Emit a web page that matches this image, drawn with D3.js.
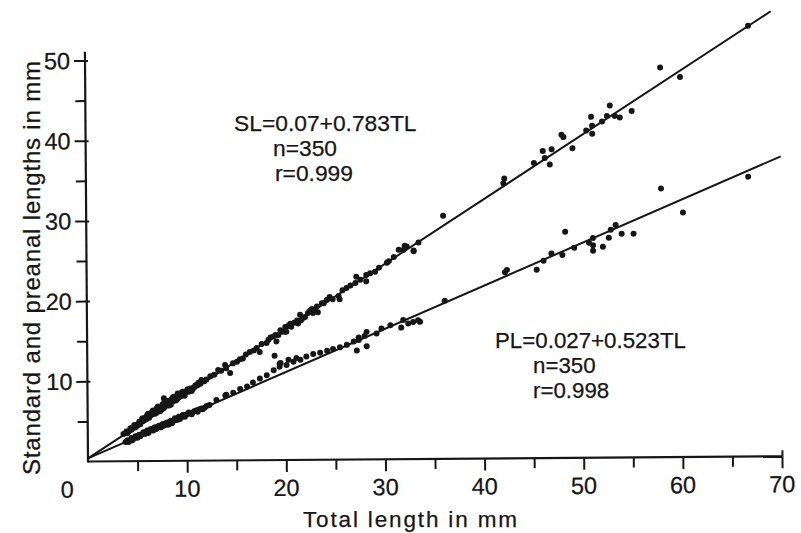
<!DOCTYPE html>
<html><head><meta charset="utf-8">
<script src="https://cdn.jsdelivr.net/npm/d3@7"></script>
<style>
html,body{margin:0;padding:0;background:#fff;}
svg{display:block;}
text{font-family:"Liberation Sans",Arial,sans-serif;fill:#161616;stroke:#161616;stroke-width:0.25px;}
</style>
</head><body><svg id="chart" width="801" height="533"></svg>
<script>
// ---------- data ----------
const xTicks = [10, 20, 30, 40, 50, 60, 70];
const xMinorTicks = [5, 15, 25, 35, 45, 55, 65];
const yTicks = [10, 20, 30, 40, 50];
const yMinorTicks = [5, 15, 25, 35, 45];

// fitted lines as drawn (TL, value)
const slFit = [[0, 0.4], [69.2, 55.5]];
const plFit = [[0, 0.4], [70.1, 37.4]];

// standard length points (TL, SL)
const slPoints = [
 [66.9,53.7],[58.0,48.6],[60.0,47.4],[55.1,43.2],[53.9,42.4],[53.4,42.6],[52.9,43.9],[52.6,42.6],
 [52.1,41.9],[51.0,42.5],[51.1,41.4],[51.1,40.4],[50.5,40.8],[49.1,38.6],[48.0,40.3],[48.2,40.0],
 [47.0,38.5],[46.1,38.3],[46.3,37.4],[46.8,36.6],[45.2,36.8],[42.2,34.9],[42.1,34.3],[36.0,30.3],
 [33.5,27.0],[33.0,26.0],[32.1,26.6],[32.0,26.1],[33.0,25.9],[31.5,26.1],[32.3,26.5],[30.3,24.5],
 [30.5,24.7],[29.1,23.4],[28.2,23.0],[27.2,22.8],[28.2,22.2],[27.1,22.0],[26.2,21.4],[25.5,20.0],
 [25.4,20.4],[24.5,20.3],[24.2,19.9],[23.7,19.5],[23.2,19.1],[22.7,18.8],[22.3,18.3],[22.8,18.3],
 [23.3,18.4],[21.8,17.7],[21.5,18.1],[21.2,17.4],[20.5,17.0],[20.0,16.6],[20.1,16.0],[19.5,16.2],
 [19.0,15.6],[18.5,15.3],[22.0,17.8],[21.3,17.0],[20.6,16.6],[19.9,16.0],[19.3,15.6],[19.1,14.8],
 [18.1,14.6],[17.4,13.5],[17.1,14.0],[16.4,13.5],[15.7,12.7],[15.1,12.3],[14.4,10.9],[13.9,11.9],
 [13.2,11.3],[12.4,10.5],[11.5,10.05],[7.7,7.8],
 [11.8,9.9],[12.0,10.1],[12.8,10.7],[13.5,11.2],[14.0,11.5],[14.7,12.1],[15.4,12.6],[16.0,13.2],
 [16.8,13.7],[17.6,14.5],[18.3,15.0],[18.8,15.4],[19.6,16.0],[20.3,16.7],[20.9,17.1],[21.6,17.4],
 [22.5,18.6],[23.0,18.7],[23.9,19.5],[24.8,20.0],[25.8,21.1],[26.6,21.7],[27.6,22.4],[28.6,23.2],
 [29.5,23.9],[31.0,25.2],
 [3.6,3.4],[3.9,3.7],[4.1,3.7],[4.3,4.1],[4.5,4.1],[4.7,4.5],[4.9,4.5],[5.0,4.4],[5.2,4.9],[5.4,4.9],
 [5.5,5.3],[5.7,5.1],[5.8,5.4],[6.0,5.4],[6.1,5.9],[6.2,5.4],[6.4,5.9],[6.5,5.8],[6.6,6.3],[6.8,5.9],
 [6.9,6.3],[7.0,6.6],[7.1,6.3],[7.2,6.2],[7.4,6.8],[7.5,6.7],[7.6,7.1],[7.7,6.6],[7.9,7.1],[8.0,7.0],
 [8.1,7.5],[8.2,6.9],[8.4,7.5],[8.5,7.4],[8.6,7.9],[8.8,7.5],[8.9,8.0],[9.0,7.9],[9.1,8.4],[9.3,8.0],
 [9.4,8.4],[9.5,8.1],[9.7,8.5],[9.8,8.4],[10.0,8.7],[10.2,8.6],[10.4,9.0],[10.6,8.9],[10.9,9.4],[11.1,9.4],
 [6.3,5.6],[6.7,6.0],[7.3,6.5],[7.8,6.9],[8.3,7.2],[8.7,7.6],[9.2,7.9],[9.6,8.2],[5.6,5.0],[5.9,5.2],
 [6.5,6.1],[7.0,6.1],[7.5,6.4],[8.0,6.9],[8.5,7.7],[9.0,7.7],[9.9,8.6],[10.3,8.8],[10.7,9.1],[11.4,9.6],
 [4.0,3.5],[4.4,3.9],[4.8,4.2],[5.1,4.6],[5.3,4.6],[5.6,5.3],[6.0,5.7],[6.3,5.9],[6.6,5.9],[6.8,6.3],
 [7.1,6.8],[7.3,6.2],[7.6,6.6],[7.9,7.4],[8.2,7.3],[8.4,7.0],[8.7,8.0],[9.0,7.6],[9.2,8.3],[9.5,8.5],
 [9.8,8.1],[10.1,8.9],[10.5,8.7],[10.8,9.2],[11.2,9.7],[6.1,5.5],[6.9,6.0],[7.4,6.4],[8.1,7.1],[8.9,7.7],
 [9.6,8.6]
];

// preanal length points (TL, PL)
const plPoints = [
 [66.8,34.9],[58.0,33.5],[60.2,30.5],[55.2,27.9],[54.0,27.9],[53.4,29.0],[52.9,28.4],[52.7,27.4],
 [52.1,26.3],[51.1,27.4],[51.1,26.5],[51.1,25.8],[50.7,26.8],[49.2,26.2],[48.3,28.2],[48.0,25.3],
 [46.9,25.5],[46.1,24.6],[45.4,23.5],[42.4,23.5],[42.2,23.2],[36.1,19.7],[33.6,17.1],[32.9,17.1],
 [32.4,16.9],[31.7,16.4],[33.4,17.3],[31.9,17.35],[30.6,16.7],[29.7,16.3],[29.2,15.7],[28.2,15.9],
 [28.0,15.4],[27.4,15.2],[27.2,13.6],[28.2,14.1],[27.4,14.9],[26.9,14.7],[26.2,14.3],[25.5,14.0],
 [24.8,13.8],[24.2,13.6],[23.5,13.35],[22.8,13.2],[22.1,12.9],[21.5,12.5],[20.8,12.25],[20.1,11.85],
 [19.4,11.65],[18.8,11.2],[18.1,10.6],[17.4,10.2],[16.7,9.7],[16.1,9.2],[15.4,8.9],[14.7,8.45],
 [14.0,8.2],[13.0,7.55],[12.3,6.93],[11.6,6.4],[18.9,13.0],[19.4,12.0],[13.9,8.1],[19.5,12.1],
 [20.3,12.5],[21.1,12.7],
 [3.8,2.4],[4.0,2.6],[4.2,2.5],[4.4,2.9],[4.6,2.8],[4.8,3.1],[5.0,2.9],[5.2,3.3],[5.4,3.3],[5.6,3.6],
 [5.8,3.4],[6.0,3.8],[6.2,3.7],[6.4,4.0],[6.6,3.8],[6.8,4.2],[7.0,4.1],[7.2,4.4],[7.4,4.2],[7.6,4.6],
 [7.8,4.5],[8.0,4.8],[8.2,4.6],[8.4,5.0],[8.6,4.9],[8.8,5.3],[9.0,5.1],[9.2,5.5],[9.4,5.4],[9.6,5.7],
 [9.8,5.5],[10.0,5.8],[10.3,5.9],[10.6,6.0],[11.0,6.3],[11.3,6.4],
 [5.1,3.2],[5.9,3.6],[6.5,3.9],[7.1,4.3],[7.7,4.4],[8.3,4.9],[8.9,5.1],[9.5,5.5],[6.9,4.0],[7.9,4.7],
 [4.1,2.4],[4.5,2.6],[4.9,3.0],[5.3,3.1],[5.7,3.4],[6.1,3.5],[6.3,3.9],[6.7,4.1],[7.3,4.2],[7.5,4.5],
 [8.1,4.5],[8.5,4.7],[8.7,5.1],[9.1,5.3],[9.3,5.2],[9.7,5.6],[9.9,5.7],[10.2,6.0],[10.5,5.8],[10.8,6.2],
 [11.1,6.1],[11.5,6.5],[11.8,6.6],[12.0,6.8]
];

const slLabel = ["SL=0.07+0.783TL", "n=350", "r=0.999"];
const plLabel = ["PL=0.027+0.523TL", "n=350", "r=0.998"];
const xTitle = "Total length in mm";
const yTitle = "Standard and preanal lengths in mm";

// ---------- drawing ----------
const ink = "#161616";
const svg = d3.select("#chart");
svg.append("rect").attr("width", 801).attr("height", 533).attr("fill", "#fff");

const x = d3.scaleLinear().domain([0, 70]).range([88, 782]);
const y = d3.scaleLinear().domain([0, 50]).range([461.5, 60.5]);

// plot body (scan is slightly rotated)
const plot = svg.append("g").attr("transform", `rotate(-0.43,${x(0)},${y(0)})`);

function styleAxis(g) {
  g.select(".domain").remove();
  g.selectAll("line").attr("stroke", ink).attr("stroke-width", 2);
  g.selectAll("text").remove();
}

// x axis ticks
plot.append("g").attr("transform", `translate(0,${y(0)})`)
  .call(d3.axisBottom(x).tickValues(xTicks).tickSize(12).tickFormat(""))
  .call(styleAxis);
plot.append("g").attr("transform", `translate(0,${y(0)})`)
  .call(d3.axisBottom(x).tickValues(xMinorTicks).tickSize(10).tickFormat(""))
  .call(styleAxis);
plot.append("g").attr("transform", `translate(0,${y(0)})`)
  .call(d3.axisTop(x).tickValues([70]).tickSize(6).tickFormat(""))
  .call(styleAxis);

// y axis ticks
plot.append("g").attr("transform", `translate(${x(0)},0)`)
  .call(d3.axisLeft(y).tickValues(yTicks).tickSize(11).tickFormat(""))
  .call(styleAxis);
plot.append("g").attr("transform", `translate(${x(0)},0)`)
  .call(d3.axisRight(y).tickValues(yTicks).tickSize(3).tickFormat(""))
  .call(styleAxis);
plot.append("g").attr("transform", `translate(${x(0)},0)`)
  .call(d3.axisLeft(y).tickValues(yMinorTicks).tickSize(10).tickFormat(""))
  .call(styleAxis);

// axis lines
plot.append("line").attr("x1", x(0)).attr("x2", x(70)).attr("y1", y(0)).attr("y2", y(0))
  .attr("stroke", ink).attr("stroke-width", 2.2);
plot.append("line").attr("x1", x(0)).attr("x2", x(0)).attr("y1", y(0) + 1).attr("y2", y(51.1))
  .attr("stroke", ink).attr("stroke-width", 2.2);

// tick labels
plot.selectAll(".xl").data(xTicks).join("text").attr("class", "xl")
  .attr("x", d => x(d)).attr("y", y(0) + 36)
  .attr("text-anchor", "middle").attr("font-size", 23.5).text(d => d);
plot.append("text").attr("x", x(0) - 21).attr("y", y(0) + 36)
  .attr("text-anchor", "middle").attr("font-size", 23.5).text("0");
plot.selectAll(".yl").data(yTicks).join("text").attr("class", "yl")
  .attr("x", x(0) - 15).attr("y", d => y(d) + 8.5)
  .attr("text-anchor", "end").attr("font-size", 23.5).text(d => d);

// fitted lines
const line = d3.line().x(d => x(d[0])).y(d => y(d[1]));
[slFit, plFit].forEach(f => {
  plot.append("path").attr("d", line(f)).attr("fill", "none")
    .attr("stroke", ink).attr("stroke-width", 2);
});

// points
plot.append("g").selectAll("circle").data(slPoints).join("circle")
  .attr("cx", d => x(d[0])).attr("cy", d => y(d[1])).attr("r", 3).attr("fill", ink);
plot.append("g").selectAll("circle").data(plPoints).join("circle")
  .attr("cx", d => x(d[0])).attr("cy", d => y(d[1])).attr("r", 3).attr("fill", ink);

// annotations
const slPos = [[234, 131], [273, 156], [275, 181]];
svg.selectAll(".sla").data(slLabel).join("text").attr("class", "sla")
  .attr("x", (d, i) => slPos[i][0]).attr("y", (d, i) => slPos[i][1])
  .attr("font-size", 22.8).text(d => d);
const plPos = [[495, 348], [533, 373], [533, 398]];
svg.selectAll(".pla").data(plLabel).join("text").attr("class", "pla")
  .attr("x", (d, i) => plPos[i][0]).attr("y", (d, i) => plPos[i][1])
  .attr("font-size", 22.3).text(d => d);

// axis titles
svg.append("text").attr("x", 410).attr("y", 527).attr("text-anchor", "middle")
  .attr("font-size", 22.5).attr("textLength", 214).attr("lengthAdjust", "spacing").text(xTitle);
svg.append("text").attr("transform", "translate(40,268) rotate(-90)").attr("text-anchor", "middle")
  .attr("font-size", 24).attr("textLength", 414).attr("lengthAdjust", "spacing").text(yTitle);
</script>
</body></html>
